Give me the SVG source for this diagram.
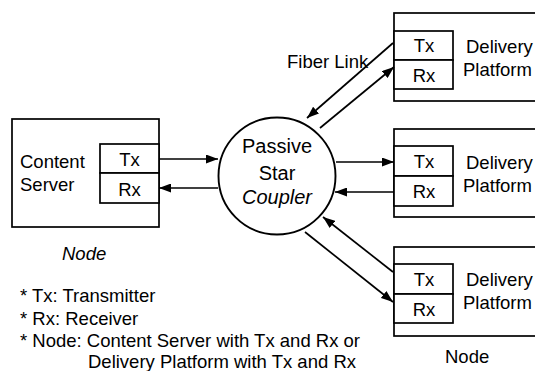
<svg xmlns="http://www.w3.org/2000/svg" width="535" height="371" viewBox="0 0 535 371">
<defs>
<marker id="ah" viewBox="0 0 12 9" refX="12" refY="4.5" markerWidth="12" markerHeight="9" markerUnits="userSpaceOnUse" orient="auto">
<path d="M0,0 L12,4.5 L0,9 Z" fill="#000"/>
</marker>
<style>
text{font-family:"Liberation Sans",Arial,sans-serif;font-size:18.5px;fill:#000}
.c{text-anchor:middle}
.box{fill:#fff;stroke:#000;stroke-width:1.7}
.ln{fill:none;stroke:#000;stroke-width:1.7;marker-end:url(#ah)}
.it{font-style:italic}
</style>
</defs>
<rect width="535" height="371" fill="#fff"/>
<g id="content-server">
<rect class="box" x="12" y="119" width="147" height="108"/>
<rect class="box" x="100" y="144" width="59" height="29"/>
<rect class="box" x="100" y="173" width="59" height="30"/>
<text x="20" y="168">Content</text>
<text x="20" y="191">Server</text>
<text class="c" x="129.5" y="166">Tx</text>
<text class="c" x="129.5" y="196">Rx</text>
</g>
<g id="coupler">
<circle cx="277" cy="176" r="58.5" fill="#fff" stroke="#000" stroke-width="1.9"/>
<text class="c" x="277" y="153" style="font-size:20px">Passive</text>
<text class="c" x="277" y="180" style="font-size:20px">Star</text>
<text class="c it" x="277" y="204" style="font-size:20px">Coupler</text>
</g>
<g id="platform1">
<rect class="box" x="394" y="13" width="150" height="88"/>
<rect class="box" x="394" y="31" width="59" height="29"/>
<rect class="box" x="394" y="60" width="59" height="29"/>
<text class="c" x="424" y="52">Tx</text>
<text class="c" x="424" y="82">Rx</text>
<text x="466" y="53">Delivery</text>
<text x="463" y="76">Platform</text>
</g>
<g id="platform2">
<rect class="box" x="394" y="129" width="150" height="88"/>
<rect class="box" x="394" y="146" width="59" height="30"/>
<rect class="box" x="394" y="176" width="59" height="30"/>
<text class="c" x="424" y="168">Tx</text>
<text class="c" x="424" y="198">Rx</text>
<text x="466" y="169">Delivery</text>
<text x="463" y="192">Platform</text>
</g>
<g id="platform3">
<rect class="box" x="394" y="247" width="150" height="89"/>
<rect class="box" x="394" y="264" width="59" height="30"/>
<rect class="box" x="394" y="294" width="59" height="29"/>
<text class="c" x="424" y="286">Tx</text>
<text class="c" x="424" y="316">Rx</text>
<text x="466" y="286">Delivery</text>
<text x="463" y="309">Platform</text>
</g>
<g id="connectors">
<line class="ln" x1="159" y1="159" x2="218" y2="159"/>
<line class="ln" x1="218" y1="188" x2="159" y2="188"/>
<line class="ln" x1="336" y1="162" x2="394" y2="162"/>
<line class="ln" x1="394" y1="192" x2="335" y2="192"/>
<line class="ln" x1="393" y1="43" x2="307" y2="118"/>
<line class="ln" x1="320" y1="128" x2="394" y2="67"/>
<line class="ln" x1="393" y1="272" x2="323" y2="217"/>
<line class="ln" x1="305" y1="232" x2="393" y2="302"/>
</g>
<g id="labels">
<text x="287" y="68">Fiber Link</text>
<text class="it" x="62" y="260">Node</text>
<text x="445" y="363">Node</text>
<text x="20" y="302">* Tx: Transmitter</text>
<text x="20" y="325">* Rx: Receiver</text>
<text x="20" y="347">* Node: Content Server with Tx and Rx or</text>
<text x="88" y="368">Delivery Platform with Tx and Rx</text>
</g>
</svg>
